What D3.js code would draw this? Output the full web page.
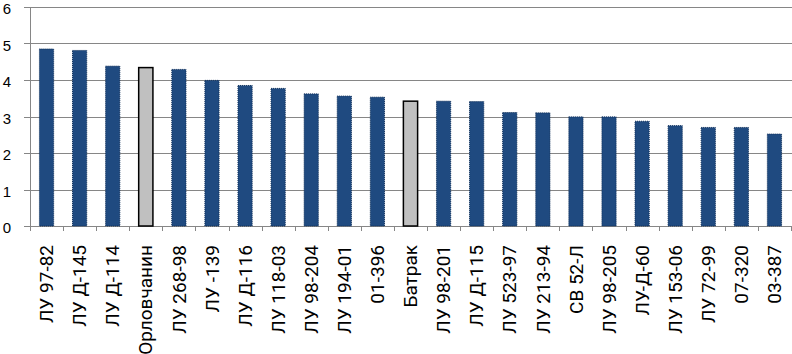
<!DOCTYPE html>
<html>
<head>
<meta charset="utf-8">
<script src="https://cdn.jsdelivr.net/npm/d3@7"></script>
<style>
  body { margin: 0; background: #fff; }
  svg text { font-family: "Noto Sans", sans-serif; fill: #000; }
  svg text.cat { font-family: Roboto, "Noto Sans", sans-serif; }
  svg text.num { font-family: "Liberation Sans", sans-serif; }
</style>
</head>
<body>
<div id="chart"></div>
<script>
'use strict';

const categories = ['ЛУ 97-82', 'ЛУ Д-145', 'ЛУ Д-114', 'Орловчанин', 'ЛУ 268-98', 'ЛУ -139',
    'ЛУ Д-116', 'ЛУ 118-03', 'ЛУ 98-204', 'ЛУ 194-01', '01-396', 'Батрак', 'ЛУ 98-201',
    'ЛУ Д-115', 'ЛУ 523-97', 'ЛУ 213-94', 'СВ 52-Л', 'ЛУ 98-205', 'ЛУ-Д-60', 'ЛУ 153-06',
    'ЛУ 72-99', '07-320', '03-387'];
const values = [4.85, 4.81, 4.38, 4.34, 4.29, 3.99, 3.85, 3.77, 3.62, 3.56, 3.53, 3.42, 3.42,
    3.41, 3.11, 3.10, 2.99, 2.99, 2.87, 2.75, 2.70, 2.70, 2.52];
const standards = ['Орловчанин', 'Батрак'];
const yTicks = [0, 1, 2, 3, 4, 5, 6];

const width = 792, height = 354;
const plotL = 30, plotR = 791, plotT = 7, plotB = 226;

const svg = d3.select('#chart').append('svg')
    .attr('width', width)
    .attr('height', height);

const x = d3.scaleBand().domain(categories).range([plotL, plotR]).padding(0);
const y = d3.scaleLinear().domain([0, 6]).range([plotB, plotT]);

// gridlines
svg.append('g')
    .selectAll('line')
    .data(yTicks)
    .enter()
    .append('line')
    .attr('x1', plotL - 6)
    .attr('x2', width)
    .attr('y1', d => Math.round(y(d)) + 0.5)
    .attr('y2', d => Math.round(y(d)) + 0.5)
    .style('stroke', '#868686')
    .style('stroke-width', 1);

// y labels
svg.append('g')
    .selectAll('text')
    .data(yTicks)
    .enter()
    .append('text')
    .attr('class', 'num')
    .attr('x', 11)
    .attr('y', d => y(d) + 7)
    .attr('text-anchor', 'end')
    .style('font-size', '15px')
    .text(d => d);

// y axis line
svg.append('line')
    .attr('x1', plotL + 0.5).attr('x2', plotL + 0.5)
    .attr('y1', plotT).attr('y2', plotB + 0.5)
    .style('stroke', '#868686');

// x ticks at category boundaries
const bounds = categories.map(c => x(c)).concat([plotR]);
svg.append('g')
    .selectAll('line')
    .data(bounds)
    .enter()
    .append('line')
    .attr('x1', d => Math.round(d) + 0.5)
    .attr('x2', d => Math.round(d) + 0.5)
    .attr('y1', plotB)
    .attr('y2', plotB + 5)
    .style('stroke', '#868686');

// bars
const barW = x.bandwidth() * 0.43;
svg.append('g')
    .selectAll('rect')
    .data(categories.map((c, i) => ({ c: c, v: values[i] })))
    .enter()
    .append('rect')
    .attr('x', d => x(d.c) + (x.bandwidth() - barW) / 2)
    .attr('y', d => y(d.v))
    .attr('width', barW)
    .attr('height', d => y(0) - y(d.v))
    .style('fill', d => standards.includes(d.c) ? '#c0c0c0' : '#1f4a80')
    .style('stroke', d => standards.includes(d.c) ? '#000' : '#10305a')
    .style('stroke-width', d => standards.includes(d.c) ? 1.5 : 1)
    .style('stroke-dasharray', d => standards.includes(d.c) ? null : '1,1');

// x labels
svg.append('g')
    .selectAll('text')
    .data(categories)
    .enter()
    .append('text')
    .attr('class', 'cat')
    .attr('transform', d => `translate(${x(d) + x.bandwidth() / 2},245) rotate(-90)`)
    .attr('dy', '0.35em')
    .attr('text-anchor', 'end')
    .style('font-size', '19px')
    .text(d => d);
</script>
</body>
</html>
